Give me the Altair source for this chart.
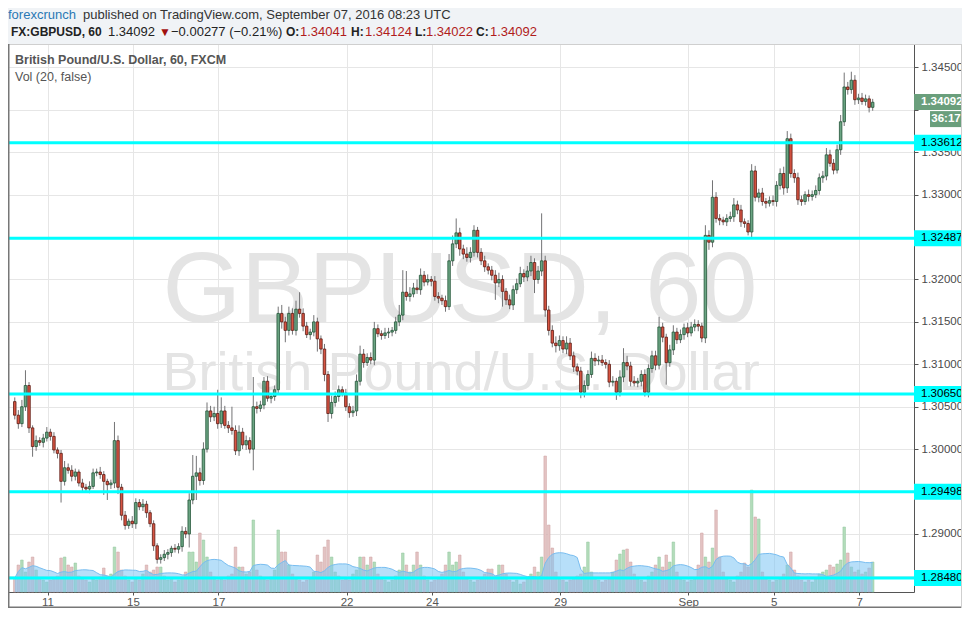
import json
import altair as alt
import pandas as pd

# ---------------- data (2-hour candles, 10 Aug - 7 Sep 2016) ----------------
first_open = 1.3056
closes = [
    1.3040, 1.3030, 1.3050, 1.3075, 1.3025, 1.3003, 1.3010, 1.3008, 1.3013, 1.3020,
    1.3015, 1.2999, 1.2995, 1.2962, 1.2978, 1.2975, 1.2968, 1.2973, 1.2960, 1.2955,
    1.2953, 1.2956, 1.2972, 1.2973, 1.2970, 1.2962, 1.2958, 1.2960, 1.3010, 1.2955,
    1.2922, 1.2910, 1.2915, 1.2912, 1.2937, 1.2932, 1.2935, 1.2925, 1.2912, 1.2886,
    1.2870, 1.2872, 1.2876, 1.2878, 1.2883, 1.2882, 1.2885, 1.2903, 1.2900, 1.2940,
    1.2968, 1.2972, 1.2963, 1.3000, 1.3045, 1.3038, 1.3042, 1.3030, 1.3045, 1.3028,
    1.3025, 1.3022, 1.2998, 1.3020, 1.3005, 1.3010, 1.3000, 1.3050, 1.3048, 1.3052,
    1.3080, 1.3060, 1.3062, 1.3070, 1.3160, 1.3150, 1.3140, 1.3160, 1.3140, 1.3165,
    1.3160, 1.3145, 1.3135, 1.3138, 1.3150, 1.3130, 1.3118, 1.3088, 1.3042, 1.3055,
    1.3062, 1.3070, 1.3066, 1.3050, 1.3043, 1.3045, 1.3080, 1.3112, 1.3102, 1.3108,
    1.3105, 1.3142, 1.3136, 1.3134, 1.3137, 1.3138, 1.3140, 1.3150, 1.3158, 1.3185,
    1.3180, 1.3183, 1.3190, 1.3188, 1.3205, 1.3197, 1.3200, 1.3198, 1.3180, 1.3178,
    1.3175, 1.3168, 1.3222, 1.3242, 1.3255, 1.3236, 1.3230, 1.3226, 1.3232, 1.3258,
    1.3232, 1.3222, 1.3215, 1.3211, 1.3205, 1.3196, 1.3200, 1.3186, 1.3176, 1.3170,
    1.3188, 1.3195, 1.3207, 1.3203, 1.3210, 1.3220, 1.3200, 1.3210, 1.3222, 1.3164,
    1.3140, 1.3125, 1.3122, 1.3128, 1.3118, 1.3125, 1.3110, 1.3097, 1.3092, 1.3067,
    1.3075, 1.3088, 1.3107, 1.3104, 1.3105, 1.3102, 1.3100, 1.3079, 1.3080, 1.3067,
    1.3085, 1.3102, 1.3098, 1.3080, 1.3078, 1.3080, 1.3088, 1.3067, 1.3095, 1.3110,
    1.3099, 1.3144, 1.3132, 1.3102, 1.3117, 1.3138, 1.3129, 1.3135, 1.3143, 1.3137,
    1.3144, 1.3147, 1.3145, 1.3131, 1.3252, 1.3244, 1.3297, 1.3272, 1.3270, 1.3268,
    1.3272, 1.3274, 1.3288, 1.3282, 1.3268, 1.3266, 1.3256, 1.3328, 1.3297, 1.3302,
    1.3292, 1.3290, 1.3293, 1.3292, 1.3311, 1.3325, 1.3308, 1.3366, 1.3325, 1.3320,
    1.3294, 1.3292, 1.3300, 1.3298, 1.3300, 1.3305, 1.3320, 1.3322, 1.3347, 1.3337,
    1.3329, 1.3353, 1.3386, 1.3427, 1.3424, 1.3435, 1.3412, 1.3414, 1.3410, 1.3413,
    1.3403, 1.3409,
]
up_wick_pips = [
    5, 6, 8, 18, 4, 3, 6, 4, 5, 6,
    4, 5, 3, 4, 8, 5, 6, 4, 3, 5,
    4, 6, 5, 4, 6, 4, 3, 4, 22, 6,
    4, 5, 3, 6, 5, 4, 6, 4, 3, 4,
    3, 4, 5, 4, 3, 5, 4, 6, 5, 8,
    25, 20, 6, 8, 10, 6, 8, 28, 16, 6,
    5, 25, 6, 8, 5, 6, 4, 35, 6, 5,
    5, 6, 4, 5, 8, 10, 6, 8, 6, 10,
    20, 6, 5, 4, 8, 5, 4, 6, 4, 8,
    6, 5, 4, 5, 4, 6, 8, 10, 6, 5,
    6, 8, 5, 4, 6, 5, 4, 6, 12, 26,
    25, 8, 6, 10, 8, 5, 6, 4, 6, 5,
    4, 6, 8, 10, 17, 6, 5, 8, 6, 6,
    4, 5, 6, 4, 5, 6, 8, 5, 4, 6,
    5, 6, 8, 5, 6, 8, 5, 6, 56, 6,
    5, 6, 8, 6, 5, 8, 6, 5, 4, 5,
    6, 5, 8, 6, 5, 6, 4, 5, 6, 4,
    8, 17, 8, 5, 6, 4, 5, 6, 5, 6,
    6, 12, 5, 4, 6, 8, 5, 6, 5, 6,
    6, 6, 5, 4, 12, 6, 20, 6, 5, 4,
    5, 6, 8, 5, 6, 4, 4, 8, 6, 5,
    6, 4, 5, 6, 5, 6, 8, 9, 6, 5,
    6, 5, 4, 6, 5, 6, 5, 6, 8, 6,
    5, 6, 8, 17, 6, 10, 6, 5, 6, 5,
    4, 4,
]
down_wick_pips = [
    5, 6, 4, 5, 6, 12, 5, 4, 6, 4,
    5, 4, 6, 25, 5, 4, 6, 5, 4, 6,
    4, 5, 3, 4, 5, 16, 18, 5, 6, 8,
    6, 5, 4, 5, 6, 4, 5, 6, 4, 6,
    5, 5, 4, 6, 5, 4, 5, 6, 5, 16,
    5, 28, 6, 5, 4, 6, 5, 6, 5, 4,
    6, 5, 5, 6, 5, 6, 5, 25, 6, 4,
    5, 4, 6, 5, 6, 8, 14, 6, 5, 6,
    5, 6, 4, 6, 5, 15, 6, 8, 10, 6,
    5, 6, 4, 5, 6, 5, 6, 5, 6, 4,
    5, 6, 4, 5, 4, 6, 5, 4, 5, 6,
    5, 6, 4, 5, 6, 5, 4, 6, 5, 6,
    5, 6, 4, 6, 5, 8, 6, 5, 6, 5,
    6, 5, 6, 5, 6, 20, 5, 18, 6, 5,
    6, 5, 4, 6, 5, 6, 16, 5, 6, 8,
    6, 5, 8, 6, 5, 6, 5, 6, 5, 7,
    6, 5, 4, 6, 5, 4, 5, 6, 5, 9,
    5, 6, 5, 6, 4, 5, 6, 5, 6, 5,
    6, 5, 6, 26, 5, 6, 5, 4, 6, 5,
    4, 5, 6, 5, 6, 9, 6, 5, 6, 4,
    5, 4, 6, 5, 6, 5, 4, 6, 5, 6,
    5, 6, 4, 5, 6, 5, 8, 6, 5, 6,
    6, 5, 4, 6, 5, 4, 5, 6, 5, 4,
    5, 4, 6, 5, 6, 5, 6, 5, 4, 5,
    6, 4,
]
volumes = [
    14, 27, 32, 20, 30, 35, 22, 14, 12, 10,
    12, 14, 16, 34, 35, 27, 25, 29, 16, 14,
    12, 10, 13, 12, 15, 24, 16, 18, 45, 40,
    22, 16, 12, 10, 14, 12, 18, 27, 20, 22,
    25, 25, 16, 12, 14, 10, 12, 15, 20, 40,
    40, 30, 59, 52, 35, 20, 15, 12, 14, 12,
    16, 18, 45, 25, 25, 18, 20, 72, 22, 16,
    14, 12, 15, 22, 62, 40, 40, 27, 18, 14,
    12, 10, 12, 14, 20, 37, 30, 45, 52, 35,
    20, 16, 12, 14, 12, 18, 22, 35, 35, 27,
    35, 30, 18, 14, 12, 10, 12, 16, 22, 39,
    27, 20, 27, 40, 27, 16, 12, 10, 12, 14,
    18, 27, 40, 27, 30, 37, 20, 14, 12, 10,
    12, 14, 18, 23, 23, 16, 27, 27, 18, 12,
    10, 12, 8, 10, 14, 18, 25, 20, 35, 136,
    67, 44, 20, 14, 12, 10, 12, 14, 16, 18,
    25, 50, 20, 14, 12, 10, 12, 14, 20, 32,
    38, 42, 43, 30, 18, 14, 12, 10, 16, 20,
    27, 35, 25, 37, 30, 50, 20, 14, 12, 10,
    12, 14, 27, 59, 35, 30, 44, 82, 35, 20,
    14, 12, 10, 16, 20, 29, 25, 102, 75, 73,
    20, 14, 12, 10, 12, 14, 18, 27, 40, 22,
    16, 12, 10, 12, 10, 14, 18, 20, 22, 27,
    25, 28, 32, 65, 39, 25, 20, 22, 18, 20,
    24, 30,
]
day_tick_index = [9.2, 33.2, 57.2, 93.2, 117.2, 153.2, 189.2, 213.2, 237.2]
day_tick_labels = ["11", "15", "17", "22", "24", "29", "Sep", "5", "7"]
price_ticks = [1.285, 1.290, 1.295, 1.300, 1.305, 1.310, 1.315,
               1.320, 1.325, 1.330, 1.335, 1.340, 1.345]
hidden_price_labels = [1.285, 1.340]
levels = [1.33612, 1.32487, 1.30650, 1.29498, 1.28480]
last_price = 1.34092
countdown = "36:17"

# ---------------- table ----------------
opens = [first_open] + closes[:-1]
rows = []
for i, (o, c, u, d, v) in enumerate(zip(opens, closes, up_wick_pips, down_wick_pips, volumes)):
    rows.append({"i": i, "open": o, "close": c,
                 "high": max(o, c) + u / 10000.0, "low": min(o, c) - d / 10000.0, "vol": v})
df = pd.DataFrame(rows)
lv = pd.DataFrame({"price": levels})
lp = pd.DataFrame({"price": [last_price], "cd": [countdown]})
one = pd.DataFrame({"k": [0]})

W, H = 906, 548
RW = 954          # right edge of the price-label strip
BOT = 564         # bottom frame line (plot coordinates)
FONT = "Liberation Sans"
UP_FILL, UP_LINE = "#6ba583", "#225437"
DN_FILL, DN_LINE = "#d75442", "#5b1a13"
is_up = "datum.close >= datum.open"

label_expr = "{}[indexof({}, datum.value)]".format(json.dumps(day_tick_labels), json.dumps(day_tick_index))
x_enc = alt.X("i:Q", scale=alt.Scale(domain=[-0.5, 251.2], nice=False, zero=False),
              axis=alt.Axis(values=day_tick_index, labelExpr=label_expr, title=None, grid=True,
                            gridColor="#e6e6e6", domainColor="#555555", tickColor="#555555",
                            tickSize=3, labelPadding=1, labelFont="Liberation Sans Narrow, Liberation Sans",
                            labelFontSize=11.5, labelColor="#555555", labelOverlap=False, labelFlush=False))
p_scale = alt.Scale(domain=[1.28315, 1.34777], nice=False, zero=False)
v_scale = alt.Scale(domain=[0, H], nice=False, zero=True)
hide_expr = "indexof({}, datum.value) >= 0 ? '' : datum.label".format(json.dumps(hidden_price_labels))
y_axis = alt.Axis(orient="right", values=price_ticks, format=".5f", title=None, grid=True,
                  gridColor="#e6e6e6", domainColor="#555555", tickColor="#555555", tickSize=4,
                  labelPadding=3, labelFont=FONT, labelFontSize=11.5, labelColor="#4a4a4a",
                  labelOverlap=False, labelFlush=False, labelExpr=hide_expr)


def txt(s, x, y, size=13, color="#333333", weight="normal", align="left", font=FONT):
    return alt.Chart(one).mark_text(text=s, align=align, baseline="alphabetic", fontSize=size,
                                    color=color, fontWeight=weight, font=font).encode(
        x=alt.value(x), y=alt.value(y))


header_bg = alt.Chart(one).mark_rect(color="#f0f3f6").encode(
    x=alt.value(0), x2=alt.value(RW), y=alt.value(-36), y2=alt.value(0))

watermark = [
    txt("GBPUSD, 60", 452, 278, size=101, color="#e4e4e4", align="center"),
    txt("British Pound/U.S. Dollar", 453, 346, size=54, color="#e4e4e4", align="center"),
]

vol_bars = alt.Chart(df).mark_bar(size=2.6, strokeWidth=0.5).encode(
    x=x_enc,
    y=alt.Y("vol:Q", scale=v_scale, axis=None),
    fill=alt.condition(is_up, alt.value("#b3dcba"), alt.value("#e3c3c3")),
    stroke=alt.condition(is_up, alt.value("#93c79e"), alt.value("#cfa2a2")),
)
vol_ma = alt.Chart(df).transform_window(
    ma="mean(vol)", frame=[-9, 0], sort=[alt.SortField("i")]
).mark_area(color="#7cc4f4", opacity=0.55, line={"color": "#78bdf0", "strokeWidth": 1}).encode(
    x=x_enc, y=alt.Y("ma:Q", scale=v_scale, axis=None))

wicks = alt.Chart(df).mark_rule(color="#737375", strokeWidth=1).encode(
    x=x_enc, y=alt.Y("low:Q", scale=p_scale, axis=None), y2="high:Q")
bodies = alt.Chart(df).mark_bar(size=2.5, strokeWidth=0.8).encode(
    x=x_enc,
    y=alt.Y("open:Q", scale=p_scale, axis=y_axis),
    y2="close:Q",
    fill=alt.condition(is_up, alt.value(UP_FILL), alt.value(DN_FILL)),
    stroke=alt.condition(is_up, alt.value(UP_LINE), alt.value(DN_LINE)),
)

level_lines = alt.Chart(lv).mark_rule(color="#00ffff", strokeWidth=3).encode(
    x=alt.value(0), x2=alt.value(W), y=alt.Y("price:Q", scale=p_scale, axis=None))
level_boxes = alt.Chart(lv).mark_rule(color="#00ffff", strokeWidth=16).encode(
    x=alt.value(W), x2=alt.value(RW), y=alt.Y("price:Q", scale=p_scale, axis=None))
level_text = alt.Chart(lv).mark_text(align="left", baseline="middle", fontSize=11.5, font=FONT,
                                     color="#000000").encode(
    x=alt.value(W + 7), y=alt.Y("price:Q", scale=p_scale, axis=None),
    text=alt.Text("price:Q", format=".5f"))

last_box = alt.Chart(lp).mark_rule(color="#6a9f7c", strokeWidth=16).encode(
    x=alt.value(W), x2=alt.value(RW), y=alt.Y("price:Q", scale=p_scale, axis=None))
last_text = alt.Chart(lp).mark_text(align="left", baseline="middle", fontSize=11.5, font=FONT,
                                    fontWeight="bold", color="#ffffff").encode(
    x=alt.value(W + 7), y=alt.Y("price:Q", scale=p_scale, axis=None),
    text=alt.Text("price:Q", format=".5f"))
cd_box = alt.Chart(lp).mark_rule(color="#6a9f7c", strokeWidth=16, yOffset=17).encode(
    x=alt.value(W + 16), x2=alt.value(RW), y=alt.Y("price:Q", scale=p_scale, axis=None))
cd_text = alt.Chart(lp).mark_text(align="center", baseline="middle", fontSize=11.5, font=FONT,
                                  fontWeight="bold", color="#ffffff", yOffset=17).encode(
    x=alt.value(W + 32), y=alt.Y("price:Q", scale=p_scale, axis=None), text="cd:N")

RED = "#b01c1c"
INK = "#222222"
L1 = -25.5
L2 = -8
header = [
    txt("forexcrunch", 0, L1, size=13, color="#2a78b4"),
    txt("published on TradingView.com, September 07, 2016 08:23 UTC", 75, L1, size=13),
    txt("FX:GBPUSD, 60", 3, L2, size=12, weight="bold", color=INK),
    txt("1.34092", 100, L2, size=13, color=INK),
    txt("\u25bc", 151, L2, size=12, color="#a01010"),
    txt("\u22120.00277 (\u22120.21%)", 163, L2, size=13, color=INK),
    txt("O:", 278, L2, size=12, weight="bold", color=INK),
    txt("1.34041", 292, L2, size=13, color=RED),
    txt("H:", 343, L2, size=12, weight="bold", color=INK),
    txt("1.34124", 357, L2, size=13, color=RED),
    txt("L:", 407, L2, size=12, weight="bold", color=INK),
    txt("1.34022", 418, L2, size=13, color=RED),
    txt("C:", 468, L2, size=12, weight="bold", color=INK),
    txt("1.34092", 482, L2, size=13, color=RED),
    txt("British Pound/U.S. Dollar, 60, FXCM", 7, 20, size=12.5, weight="bold", color="#555555"),
    txt("Vol (20, false)", 7, 37, size=12.5, color="#555555"),
]

frame = [
    alt.Chart(one).mark_rule(color="#cfcfcf", strokeWidth=1).encode(
        x=alt.value(0), x2=alt.value(RW), y=alt.value(0.5)),
    alt.Chart(one).mark_rule(color="#777777", strokeWidth=1.5).encode(
        x=alt.value(0.75), y=alt.value(0), y2=alt.value(BOT)),
    alt.Chart(one).mark_rule(color="#777777", strokeWidth=1.5).encode(
        x=alt.value(0), x2=alt.value(RW), y=alt.value(BOT - 0.75)),
    alt.Chart(one).mark_rule(color="#cfcfcf", strokeWidth=1).encode(
        x=alt.value(RW - 0.5), y=alt.value(0), y2=alt.value(BOT)),
]

chart = alt.layer(
    header_bg, *watermark, vol_bars, vol_ma, wicks, bodies,
    level_lines, level_boxes, level_text, last_box, last_text, cd_box, cd_text,
    *header, *frame,
).resolve_scale(y="independent").properties(
    width=W, height=H,
    padding={"left": 0, "top": 36, "right": 48, "bottom": 16},
    autosize=alt.AutoSizeParams(type="none"),
    background="#ffffff",
).configure_view(stroke=None, fill="#ffffff")

chart.save("out.html", embed_options={"renderer": "svg", "actions": False})
